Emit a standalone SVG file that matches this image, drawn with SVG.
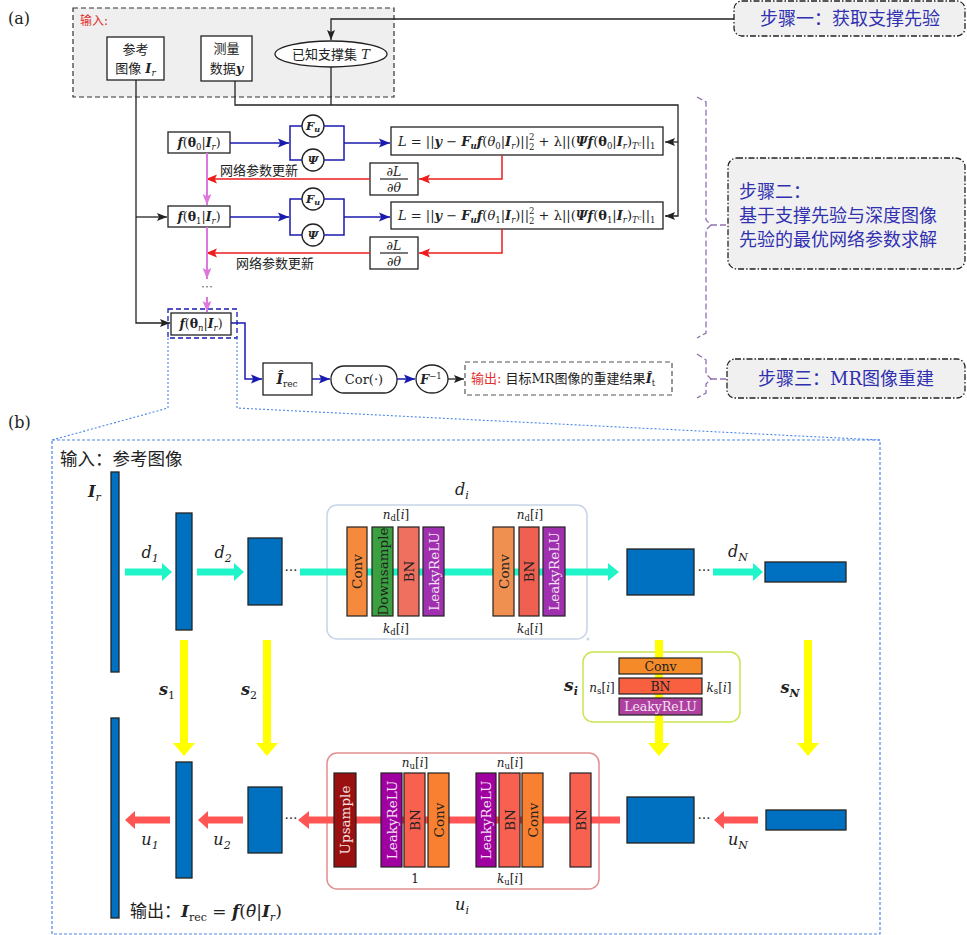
<svg xmlns="http://www.w3.org/2000/svg" width="967" height="935" viewBox="0 0 967 935">
<style>
text{font-family:"DejaVu Serif","Noto Sans CJK SC",serif;fill:#222}
.box{fill:#fff;stroke:#222;stroke-width:1.3}
.bi{font-weight:bold;font-style:italic}
.it{font-style:italic}
.blk{stroke:#222;stroke-width:1.3;fill:none}
.blu{stroke:#1a1ab0;stroke-width:1.5;fill:none}
.red{stroke:#ee1c1c;stroke-width:1.5;fill:none}
.pnk{stroke:#dd77dd;stroke-width:2;fill:none}
.step{fill:#f0f0f0;stroke:#222;stroke-width:1.3;stroke-dasharray:6,2,1.5,2}
.stxt{fill:#3030b0;font-size:18px}
.brace{stroke:#9070b0;stroke-width:1.3;fill:none;stroke-dasharray:6,3}
.fm{stroke:#222;stroke-width:1.2}
.lbl{font-size:12px;text-anchor:middle}
.bar{fill:#0070c0;stroke:#222;stroke-width:1.3}
.cy{fill:#1ff5c8}
.ye{fill:#ffff00}
.rd{fill:#ff5555}
.lt{font-size:13.5px;text-anchor:middle}
.wt{fill:#f3e3f3}
</style>
<defs>
<marker id="mk" viewBox="0 0 10 10" refX="10" refY="5" markerWidth="10" markerHeight="10" markerUnits="userSpaceOnUse" orient="auto"><path d="M0,1 L10,5 L0,9 L2,5z" fill="#222"/></marker>
<marker id="mb" viewBox="0 0 10 10" refX="10" refY="5" markerWidth="11" markerHeight="11" markerUnits="userSpaceOnUse" orient="auto"><path d="M0,1 L10,5 L0,9 L2,5z" fill="#1a1ab0"/></marker>
<marker id="mr" viewBox="0 0 10 10" refX="10" refY="5" markerWidth="11" markerHeight="11" markerUnits="userSpaceOnUse" orient="auto"><path d="M0,1 L10,5 L0,9 L2,5z" fill="#ee1c1c"/></marker>
<marker id="mp" viewBox="0 0 10 10" refX="10" refY="5" markerWidth="11" markerHeight="11" markerUnits="userSpaceOnUse" orient="auto"><path d="M0,1 L10,5 L0,9 L2,5z" fill="#dd77dd"/></marker>
</defs>

<text x="8" y="24" font-size="16">(a)</text>
<text x="8" y="428" font-size="16">(b)</text>

<g id="input">
<rect x="73" y="8" width="321" height="89" fill="#efefef" stroke="#333" stroke-width="1.2" stroke-dasharray="5,3"/>
<text x="80" y="25" font-size="12" style="fill:#e03030">输入:</text>
</g>
<g id="ref">
<rect class="box" x="107" y="37" width="57" height="43"/>
<text x="135.5" y="54" font-size="13" text-anchor="middle">参考</text>
<text x="135.5" y="73" font-size="13" text-anchor="middle">图像 <tspan class="bi">I</tspan><tspan font-size="9" dy="3" class="it">r</tspan></text>
</g>
<g id="meas">
<rect class="box" x="201" y="36" width="51" height="45"/>
<text x="226.5" y="53" font-size="13" text-anchor="middle">测量</text>
<text x="226.5" y="73" font-size="13" text-anchor="middle">数据<tspan class="bi">y</tspan></text>
</g>
<g id="support">
<ellipse cx="331" cy="54" rx="56" ry="13" fill="#fff" stroke="#222" stroke-width="1.3"/>
<text x="331" y="59" font-size="13" text-anchor="middle">已知支撑集 <tspan class="it">T</tspan></text>
</g>

<g id="step1">
<rect class="step" x="734" y="1" width="231" height="35" rx="8"/>
<text class="stxt" x="850" y="25" text-anchor="middle">步骤一：获取支撑先验</text>
</g>
<g id="step2">
<rect class="step" x="728" y="158" width="237" height="111" rx="9"/>
<text class="stxt" x="739" y="198">步骤二：</text>
<text class="stxt" x="739" y="222">基于支撑先验与深度图像</text>
<text class="stxt" x="739" y="246">先验的最优网络参数求解</text>
</g>
<g id="step3">
<rect class="step" x="727" y="359" width="238" height="39" rx="8"/>
<text class="stxt" x="846" y="385" text-anchor="middle">步骤三：MR图像重建</text>
</g>
<g id="braces">
<path class="brace" d="M697,97 L706,102 L706,220 L711,225 L706,230 L706,333 L697,338"/>
<path class="brace" d="M711,225 H728"/>
<path class="brace" d="M697,354 L706,360 L706,374 L711,379 L706,384 L706,393 L697,398"/>
<path class="brace" d="M711,379 H727"/>
</g>

<g id="f0">
<rect class="box" x="168" y="132" width="62" height="21"/>
<text x="199" y="147" font-size="12.5" text-anchor="middle"><tspan class="bi">f</tspan>(<tspan font-weight="bold">θ</tspan><tspan font-size="8.5" dy="3">0</tspan><tspan dy="-3">|</tspan><tspan class="bi">I</tspan><tspan font-size="8.5" dy="3" class="it">r</tspan><tspan dy="-3">)</tspan></text>
</g>
<g id="f1">
<rect class="box" x="168" y="206" width="62" height="21"/>
<text x="199" y="221" font-size="12.5" text-anchor="middle"><tspan class="bi">f</tspan>(<tspan font-weight="bold">θ</tspan><tspan font-size="8.5" dy="3">1</tspan><tspan dy="-3">|</tspan><tspan class="bi">I</tspan><tspan font-size="8.5" dy="3" class="it">r</tspan><tspan dy="-3">)</tspan></text>
</g>
<g id="fn">
<rect x="168" y="309" width="69" height="29" fill="none" stroke="#1a1ab0" stroke-width="1.3" stroke-dasharray="5,3"/>
<rect class="box" x="171" y="313" width="60" height="22"/>
<text x="201" y="328" font-size="12.5" text-anchor="middle"><tspan class="bi">f</tspan>(<tspan font-weight="bold">θ</tspan><tspan font-size="8.5" dy="3" class="it">n</tspan><tspan dy="-3">|</tspan><tspan class="bi">I</tspan><tspan font-size="8.5" dy="3" class="it">r</tspan><tspan dy="-3">)</tspan></text>
</g>
<g id="ops0">
<circle cx="313" cy="126" r="11" fill="#fff" stroke="#222" stroke-width="1.3"/>
<text x="313" y="130" font-size="11.5" text-anchor="middle"><tspan class="bi">F</tspan><tspan class="bi" font-size="8" dy="2">u</tspan></text>
<circle cx="313" cy="160" r="11" fill="#fff" stroke="#222" stroke-width="1.3"/>
<text x="313" y="164" font-size="11.5" text-anchor="middle" class="bi">Ψ</text>
</g>
<g id="ops1">
<circle cx="313" cy="199" r="11" fill="#fff" stroke="#222" stroke-width="1.3"/>
<text x="313" y="203" font-size="11.5" text-anchor="middle"><tspan class="bi">F</tspan><tspan class="bi" font-size="8" dy="2">u</tspan></text>
<circle cx="313" cy="235" r="11" fill="#fff" stroke="#222" stroke-width="1.3"/>
<text x="313" y="239" font-size="11.5" text-anchor="middle" class="bi">Ψ</text>
</g>
<g id="loss0">
<rect class="box" x="391" y="127" width="272" height="28"/>
<text x="398" y="146" font-size="13"><tspan class="it">L</tspan> = ||<tspan class="bi">y</tspan> − <tspan class="bi">F</tspan><tspan class="bi" font-size="8.5" dy="3">u</tspan><tspan class="bi" dy="-3">f</tspan>(<tspan class="it">θ</tspan><tspan font-size="8.5" dy="3">0</tspan><tspan dy="-3">|</tspan><tspan class="bi">I</tspan><tspan class="it" font-size="8.5" dy="3">r</tspan><tspan dy="-3">)||</tspan><tspan font-size="8.5" dy="-6">2</tspan><tspan font-size="8.5" dx="-5.4" dy="10">2</tspan><tspan dy="-4"> + λ||(</tspan><tspan class="bi">Ψf</tspan>(<tspan font-weight="bold">θ</tspan><tspan font-size="8.5" dy="3">0</tspan><tspan dy="-3">|</tspan><tspan class="bi">I</tspan><tspan class="it" font-size="8.5" dy="3">r</tspan><tspan dy="-3">)</tspan><tspan class="it" font-size="8.5" dy="3">T</tspan><tspan class="it" font-size="6.5" dy="-3">c</tspan><tspan dy="0">||</tspan><tspan font-size="8.5" dy="3">1</tspan></text>
</g>
<g id="loss1">
<rect class="box" x="391" y="202" width="272" height="27"/>
<text x="398" y="220" font-size="13"><tspan class="it">L</tspan> = ||<tspan class="bi">y</tspan> − <tspan class="bi">F</tspan><tspan class="bi" font-size="8.5" dy="3">u</tspan><tspan class="bi" dy="-3">f</tspan>(<tspan class="it">θ</tspan><tspan font-size="8.5" dy="3">1</tspan><tspan dy="-3">|</tspan><tspan class="bi">I</tspan><tspan class="it" font-size="8.5" dy="3">r</tspan><tspan dy="-3">)||</tspan><tspan font-size="8.5" dy="-6">2</tspan><tspan font-size="8.5" dx="-5.4" dy="10">2</tspan><tspan dy="-4"> + λ||(</tspan><tspan class="bi">Ψf</tspan>(<tspan font-weight="bold">θ</tspan><tspan font-size="8.5" dy="3">1</tspan><tspan dy="-3">|</tspan><tspan class="bi">I</tspan><tspan class="it" font-size="8.5" dy="3">r</tspan><tspan dy="-3">)</tspan><tspan class="it" font-size="8.5" dy="3">T</tspan><tspan class="it" font-size="6.5" dy="-3">c</tspan><tspan dy="0">||</tspan><tspan font-size="8.5" dy="3">1</tspan></text>
</g>
<g id="grad0">
<rect class="box" x="370" y="163" width="48" height="32"/>
<text x="394" y="176" font-size="12.5" text-anchor="middle">∂<tspan class="it">L</tspan></text>
<line x1="380" y1="179" x2="408" y2="179" class="fm"/>
<text x="394" y="192" font-size="12.5" text-anchor="middle">∂<tspan class="it">θ</tspan></text>
</g>
<g id="grad1">
<rect class="box" x="370" y="237" width="48" height="32"/>
<text x="394" y="250" font-size="12.5" text-anchor="middle">∂<tspan class="it">L</tspan></text>
<line x1="380" y1="253" x2="408" y2="253" class="fm"/>
<text x="394" y="266" font-size="12.5" text-anchor="middle">∂<tspan class="it">θ</tspan></text>
</g>
<g id="irec">
<rect class="box" x="263" y="363" width="49" height="32"/>
<text x="287" y="384" font-size="14" text-anchor="middle"><tspan class="bi">Î</tspan><tspan font-size="9" dy="3">rec</tspan></text>
</g>
<g id="cor">
<rect class="box" x="331" y="366" width="66" height="27" rx="13"/>
<text x="364" y="384" font-size="13" text-anchor="middle">Cor(·)</text>
</g>
<g id="finv">
<ellipse cx="432" cy="379" rx="16" ry="14" fill="#fff" stroke="#222" stroke-width="1.3"/>
<text x="431" y="384" font-size="12.5" text-anchor="middle"><tspan class="bi">F</tspan><tspan font-size="8.5" dy="-5">−1</tspan></text>
</g>
<g id="output">
<rect x="465" y="362" width="207" height="33" fill="#fff" stroke="#555" stroke-width="1.2" stroke-dasharray="5,3"/>
<text x="471" y="383" font-size="13"><tspan style="fill:#e03030">输出:</tspan> 目标MR图像的重建结果<tspan class="bi">Î</tspan><tspan font-size="8.5" dy="3">t</tspan></text>
</g>
<text x="220" y="175" font-size="13">网络参数更新</text>
<text x="236" y="268" font-size="13">网络参数更新</text>
<text x="207" y="292" font-size="12" text-anchor="middle" style="fill:#666">⋯</text>

<g id="connectors-a">
<path class="blk" d="M734,19 H331 V40" marker-end="url(#mk)"/>
<path class="blk" d="M235,81 V105 H678 V216 H665" marker-end="url(#mk)"/>
<path class="blk" d="M331,67 V105"/>
<path class="blk" d="M678,142 H665" marker-end="url(#mk)"/>
<path class="blk" d="M136,80 V323 H170" marker-end="url(#mk)"/>
<path class="blk" d="M136,217 H167" marker-end="url(#mk)"/>
<path class="blu" d="M230,143 H289" marker-end="url(#mb)"/>
<path class="blu" d="M302,126 H290 V160 H302 M324,126 H344 V160 H324"/>
<path class="blu" d="M344,143 H390" marker-end="url(#mb)"/>
<path class="blu" d="M230,217 H289" marker-end="url(#mb)"/>
<path class="blu" d="M302,199 H290 V235 H302 M324,199 H344 V235 H324"/>
<path class="blu" d="M344,217 H390" marker-end="url(#mb)"/>
<path class="red" d="M502,155 V179 H419" marker-end="url(#mr)"/>
<path class="red" d="M370,179 H206" marker-end="url(#mr)"/>
<path class="red" d="M502,229 V253 H419" marker-end="url(#mr)"/>
<path class="red" d="M370,253 H206" marker-end="url(#mr)"/>
<path class="pnk" d="M207,153 V205" marker-end="url(#mp)"/>
<path class="pnk" d="M207,227 V279" marker-end="url(#mp)"/>
<path class="pnk" d="M207,297 V312" marker-end="url(#mp)"/>
<path class="blu" d="M231,323 H245 V379 H262" marker-end="url(#mb)"/>
<path class="blu" d="M312,379 H330" marker-end="url(#mb)"/>
<path class="blu" d="M397,379 H415" marker-end="url(#mb)"/>
<path class="blk" d="M448,379 H464" marker-end="url(#mk)"/>
<path d="M168,338 V408 L52,440 M237,338 V408 L880,440" fill="none" stroke="#4a86e8" stroke-width="1.1" stroke-dasharray="2,2"/>
</g>

<rect x="52" y="440" width="828" height="494" fill="none" stroke="#4a86e8" stroke-width="1.2" stroke-dasharray="3,2"/>
<text x="60" y="465" font-size="17.5">输入：参考图像</text>
<text x="88" y="497" font-size="16"><tspan class="bi">I</tspan><tspan class="it" font-size="11" dy="4">r</tspan></text>
<text x="130" y="917" font-size="17">输出：<tspan class="bi">I</tspan><tspan font-size="11" dy="4">rec</tspan><tspan dy="-4"> = </tspan><tspan class="bi">f</tspan>(<tspan class="it">θ̂</tspan>|<tspan class="bi">I</tspan><tspan class="it" font-size="11" dy="4">r</tspan><tspan dy="-4">)</tspan></text>

<g id="di-box">
<rect x="327" y="505" width="260" height="134" rx="10" fill="none" stroke="#c8d4e8" stroke-width="1.5"/>
<circle cx="588" cy="639" r="1.5" fill="#c8d4e8"/>
<text x="462" y="495" font-size="16" class="it" text-anchor="middle">d<tspan font-size="11" dy="4">i</tspan></text>
</g>
<g id="si-box">
<rect x="583" y="652" width="157" height="70" rx="10" fill="#fff" stroke="#c8e650" stroke-width="1.5"/>
</g>
<g id="ui-box">
<rect x="327" y="753" width="272" height="136" rx="10" fill="none" stroke="#e09090" stroke-width="1.5"/>
<text x="462" y="910" font-size="16" class="it" text-anchor="middle">u<tspan font-size="11" dy="4">i</tspan></text>
</g>

<g id="arrows-b">
<path class="cy" d="M125,568.5 H162 V563 L172,572 L162,581 V575.5 H125z"/>
<path class="cy" d="M197,568.5 H234 V563 L244,572 L234,581 V575.5 H197z"/>
<path class="cy" d="M300,568.5 H608 V563 L619,572 L608,581 V575.5 H300z"/>
<path class="cy" d="M713,568.5 H753 V563 L763,572 L753,581 V575.5 H713z"/>
<path class="ye" d="M180,640 H188 V743 H195 L184,756 L173,743 H180z"/>
<path class="ye" d="M263,640 H271 V743 H278 L267,756 L256,743 H263z"/>
<path class="ye" d="M655,640 H663 V743 H670 L659,756 L648,743 H655z"/>
<path class="ye" d="M804,640 H812 V743 H819 L808,756 L797,743 H804z"/>
<path class="rd" d="M170,816.5 H135 V811 L125,820 L135,829 V823.5 H170z"/>
<path class="rd" d="M243,816.5 H208 V811 L198,820 L208,829 V823.5 H243z"/>
<path class="rd" d="M620,816.5 H309 V811 L298,820 L309,829 V823.5 H620z"/>
<path class="rd" d="M758,816.5 H724 V811 L714,820 L724,829 V823.5 H758z"/>
</g>

<g id="enc-blocks">
<rect x="111" y="472" width="8" height="200" class="bar"/>
<rect x="176" y="513" width="16" height="117" class="bar"/>
<rect x="248" y="538" width="34" height="67" class="bar"/>
<rect x="627" y="549" width="67" height="46" class="bar"/>
<rect x="765" y="562" width="81" height="20" class="bar"/>
<text x="291" y="575" font-size="13" text-anchor="middle">⋯</text>
<text x="704" y="575" font-size="13" text-anchor="middle">⋯</text>
<text x="150" y="558" font-size="16" class="it" text-anchor="middle">d<tspan font-size="11" dy="4">1</tspan></text>
<text x="223" y="558" font-size="16" class="it" text-anchor="middle">d<tspan font-size="11" dy="4">2</tspan></text>
<text x="738" y="557" font-size="16" class="it" text-anchor="middle">d<tspan font-size="11" dy="4">N</tspan></text>
</g>
<g id="dec-blocks">
<rect x="111" y="718" width="8" height="200" class="bar"/>
<rect x="176" y="762" width="16" height="116" class="bar"/>
<rect x="248" y="787" width="34" height="66" class="bar"/>
<rect x="627" y="797" width="67" height="46" class="bar"/>
<rect x="766" y="810" width="80" height="20" class="bar"/>
<text x="291" y="823" font-size="13" text-anchor="middle">⋯</text>
<text x="704" y="823" font-size="13" text-anchor="middle">⋯</text>
<text x="150" y="845" font-size="16" class="it" text-anchor="middle">u<tspan font-size="11" dy="4">1</tspan></text>
<text x="222" y="845" font-size="16" class="it" text-anchor="middle">u<tspan font-size="11" dy="4">2</tspan></text>
<text x="738" y="845" font-size="16" class="it" text-anchor="middle">u<tspan font-size="11" dy="4">N</tspan></text>
</g>
<g id="s-labels">
<text x="167" y="695" font-size="16" class="bi" text-anchor="middle">s<tspan font-size="11" dy="4" font-weight="normal" font-style="normal">1</tspan></text>
<text x="249" y="695" font-size="16" class="bi" text-anchor="middle">s<tspan font-size="11" dy="4" font-weight="normal" font-style="normal">2</tspan></text>
<text x="571" y="691" font-size="17" class="bi" text-anchor="middle">s<tspan font-size="11" dy="4">i</tspan></text>
<text x="790" y="693" font-size="16" class="bi" text-anchor="middle">s<tspan font-size="11" dy="4">N</tspan></text>
</g>

<g id="d-layers" stroke="#222" stroke-width="1.2">
<rect x="347" y="527" width="20" height="89" fill="#f58a3c"/>
<rect x="372" y="527" width="21" height="89" fill="#3aa040"/>
<rect x="398" y="527" width="21" height="89" fill="#f07060"/>
<rect x="423" y="527" width="21" height="89" fill="#a030b0"/>
<rect x="493" y="527" width="21" height="89" fill="#f09050"/>
<rect x="519" y="527" width="20" height="89" fill="#f06050"/>
<rect x="543" y="527" width="22" height="89" fill="#a030b0"/>
</g>
<g id="d-layer-text">
<text class="lt" transform="translate(362,571.5) rotate(-90)">Conv</text>
<text class="lt" transform="translate(387.5,571.5) rotate(-90)" font-size="13">Downsample</text>
<text class="lt" transform="translate(413.5,571.5) rotate(-90)">BN</text>
<text class="lt wt" transform="translate(438.5,571.5) rotate(-90)">LeakyReLU</text>
<text class="lt" transform="translate(508.5,571.5) rotate(-90)">Conv</text>
<text class="lt" transform="translate(534,571.5) rotate(-90)">BN</text>
<text class="lt wt" transform="translate(559,571.5) rotate(-90)">LeakyReLU</text>
<text x="396" y="519" class="lbl"><tspan class="it">n</tspan><tspan font-size="8.5" dy="2">d</tspan><tspan dy="-2">[</tspan><tspan class="it">i</tspan>]</text>
<text x="396" y="633" class="lbl"><tspan class="it">k</tspan><tspan font-size="8.5" dy="2">d</tspan><tspan dy="-2">[</tspan><tspan class="it">i</tspan>]</text>
<text x="530" y="519" class="lbl"><tspan class="it">n</tspan><tspan font-size="8.5" dy="2">d</tspan><tspan dy="-2">[</tspan><tspan class="it">i</tspan>]</text>
<text x="530" y="633" class="lbl"><tspan class="it">k</tspan><tspan font-size="8.5" dy="2">d</tspan><tspan dy="-2">[</tspan><tspan class="it">i</tspan>]</text>
</g>

<g id="s-layers" stroke="#222" stroke-width="1.2">
<rect x="619" y="658" width="83" height="16" fill="#f58a28"/>
<rect x="619" y="678" width="83" height="16" fill="#f86040"/>
<rect x="619" y="698" width="83" height="17" fill="#b040a0"/>
</g>
<g id="s-layer-text" font-size="12.5">
<text x="660.5" y="671" text-anchor="middle">Conv</text>
<text x="660.5" y="691" text-anchor="middle">BN</text>
<text x="660.5" y="711" text-anchor="middle" class="wt">LeakyReLU</text>
<text x="602" y="692" class="lbl"><tspan class="it">n</tspan><tspan font-size="8.5" dy="2">s</tspan><tspan dy="-2">[</tspan><tspan class="it">i</tspan>]</text>
<text x="719" y="692" class="lbl"><tspan class="it">k</tspan><tspan font-size="8.5" dy="2">s</tspan><tspan dy="-2">[</tspan><tspan class="it">i</tspan>]</text>
</g>

<g id="u-layers" stroke="#222" stroke-width="1.2">
<rect x="334" y="773" width="22" height="94" fill="#9a1010"/>
<rect x="381" y="773" width="21" height="94" fill="#a000a0"/>
<rect x="404" y="773" width="21" height="94" fill="#f86050"/>
<rect x="428" y="773" width="21" height="94" fill="#f88030"/>
<rect x="476" y="773" width="20" height="94" fill="#a000a0"/>
<rect x="499" y="773" width="21" height="94" fill="#f86050"/>
<rect x="522" y="773" width="21" height="94" fill="#f88030"/>
<rect x="570" y="773" width="21" height="94" fill="#f86050"/>
</g>
<g id="u-layer-text">
<text class="lt" transform="translate(350,820) rotate(-90)" style="fill:#f3e0e0">Upsample</text>
<text class="lt wt" transform="translate(396.5,820) rotate(-90)">LeakyReLU</text>
<text class="lt" transform="translate(419.5,820) rotate(-90)">BN</text>
<text class="lt" transform="translate(443.5,820) rotate(-90)">Conv</text>
<text class="lt wt" transform="translate(491,820) rotate(-90)">LeakyReLU</text>
<text class="lt" transform="translate(514.5,820) rotate(-90)">BN</text>
<text class="lt" transform="translate(537.5,820) rotate(-90)">Conv</text>
<text class="lt" transform="translate(585.5,820) rotate(-90)">BN</text>
<text x="415" y="767" class="lbl"><tspan class="it">n</tspan><tspan font-size="8.5" dy="2">u</tspan><tspan dy="-2">[</tspan><tspan class="it">i</tspan>]</text>
<text x="415" y="883" class="lbl">1</text>
<text x="510" y="767" class="lbl"><tspan class="it">n</tspan><tspan font-size="8.5" dy="2">u</tspan><tspan dy="-2">[</tspan><tspan class="it">i</tspan>]</text>
<text x="510" y="883" class="lbl"><tspan class="it">k</tspan><tspan font-size="8.5" dy="2">u</tspan><tspan dy="-2">[</tspan><tspan class="it">i</tspan>]</text>
</g>
</svg>
